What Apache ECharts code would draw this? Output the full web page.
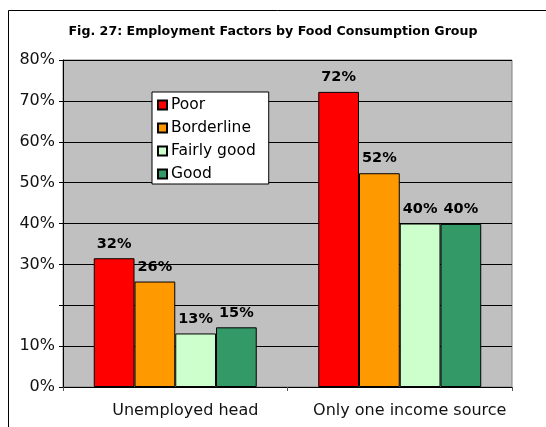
<!DOCTYPE html>
<html>
<head>
<meta charset="utf-8">
<script src="https://cdn.jsdelivr.net/npm/echarts@6/dist/echarts.min.js"></script>
<style>
html, body { margin: 0; padding: 0; background: #fff; }
#main { width: 546px; height: 427px; }
</style>
</head>
<body>
<div id="main"></div>
<script>
var categories = ['Unemployed head', 'Only one income source'];
var poor = [31.5, 72.2];
var borderline = [25.8, 52.3];
var fairlyGood = [13.1, 40.0];
var good = [14.6, 39.9];
var yTicks = [0, 10, 20, 30, 40, 50, 60, 70, 80];

var myChart = echarts.init(document.getElementById('main'));

function makeSeries(name, data, color) {
    return {
        name: name,
        type: 'bar',
        data: data,
        barGap: 0,
        barCategoryGap: '27.4%',
        itemStyle: { color: color, borderColor: '#000', borderWidth: 1 },
        label: {
            show: true,
            position: 'top',
            distance: 7,
            fontFamily: 'DejaVu Sans',
            fontWeight: 'bold',
            fontSize: 14.5,
            color: '#000',
            formatter: function (p) { return Math.round(p.value) + '%'; }
        }
    };
}

var option = {
    animation: false,
    backgroundColor: '#fff',
    textStyle: { fontFamily: 'DejaVu Sans' },
    title: {
        text: 'Fig. 27: Employment Factors by Food Consumption Group',
        left: 'center',
        top: 20,
        textStyle: { fontFamily: 'DejaVu Sans', fontWeight: 'bold', fontSize: 12.6, color: '#000' }
    },
    graphic: [{
        type: 'rect',
        shape: { x: 8.5, y: 10.5, width: 700, height: 600 },
        style: { fill: 'none', stroke: '#000', lineWidth: 1 },
        silent: true
    }],
    legend: {
        orient: 'vertical',
        left: 152,
        top: 92,
        padding: [4, 13, 1, 5],
        itemGap: 5,
        itemWidth: 9,
        itemHeight: 9,
        icon: 'rect',
        backgroundColor: '#fff',
        borderColor: '#000',
        borderWidth: 1,
        borderRadius: 0,
        textStyle: { fontFamily: 'DejaVu Sans', fontSize: 15.5, color: '#000', lineHeight: 18, padding: [0, 0, 0, -1] },
        data: ['Poor', 'Borderline', 'Fairly good', 'Good']
    },
    grid: {
        left: 63,
        right: 34,
        top: 60,
        bottom: 40,
        show: true,
        backgroundColor: '#c0c0c0',
        borderColor: '#808080',
        borderWidth: 1
    },
    xAxis: {
        type: 'category',
        data: categories,
        axisLine: { lineStyle: { color: '#000', width: 1 } },
        axisTick: { show: true, length: 4, lineStyle: { color: '#555' } },
        axisLabel: {
            interval: 0,
            fontFamily: 'DejaVu Sans',
            fontSize: 16,
            color: '#111',
            margin: 16,
            padding: [0, 0, 0, 20]
        }
    },
    yAxis: {
        type: 'value',
        min: yTicks[0],
        max: yTicks[yTicks.length - 1],
        interval: 10,
        axisLine: { show: true, lineStyle: { color: '#000', width: 1 } },
        axisTick: { show: true, length: 4, lineStyle: { color: '#000' } },
        splitLine: { show: true, lineStyle: { color: '#000', width: 1 } },
        axisLabel: {
            fontFamily: 'DejaVu Sans',
            fontSize: 16,
            color: '#111',
            margin: 8,
            formatter: function (v) { return v === 20 ? '' : v + '%'; }
        }
    },
    series: [
        makeSeries('Poor', poor, '#ff0000'),
        makeSeries('Borderline', borderline, '#ff9900'),
        makeSeries('Fairly good', fairlyGood, '#ccffcc'),
        makeSeries('Good', good, '#339966')
    ]
};

myChart.setOption(option);
window.addEventListener('resize', function () {
    myChart.resize();
});
</script>
</body>
</html>
